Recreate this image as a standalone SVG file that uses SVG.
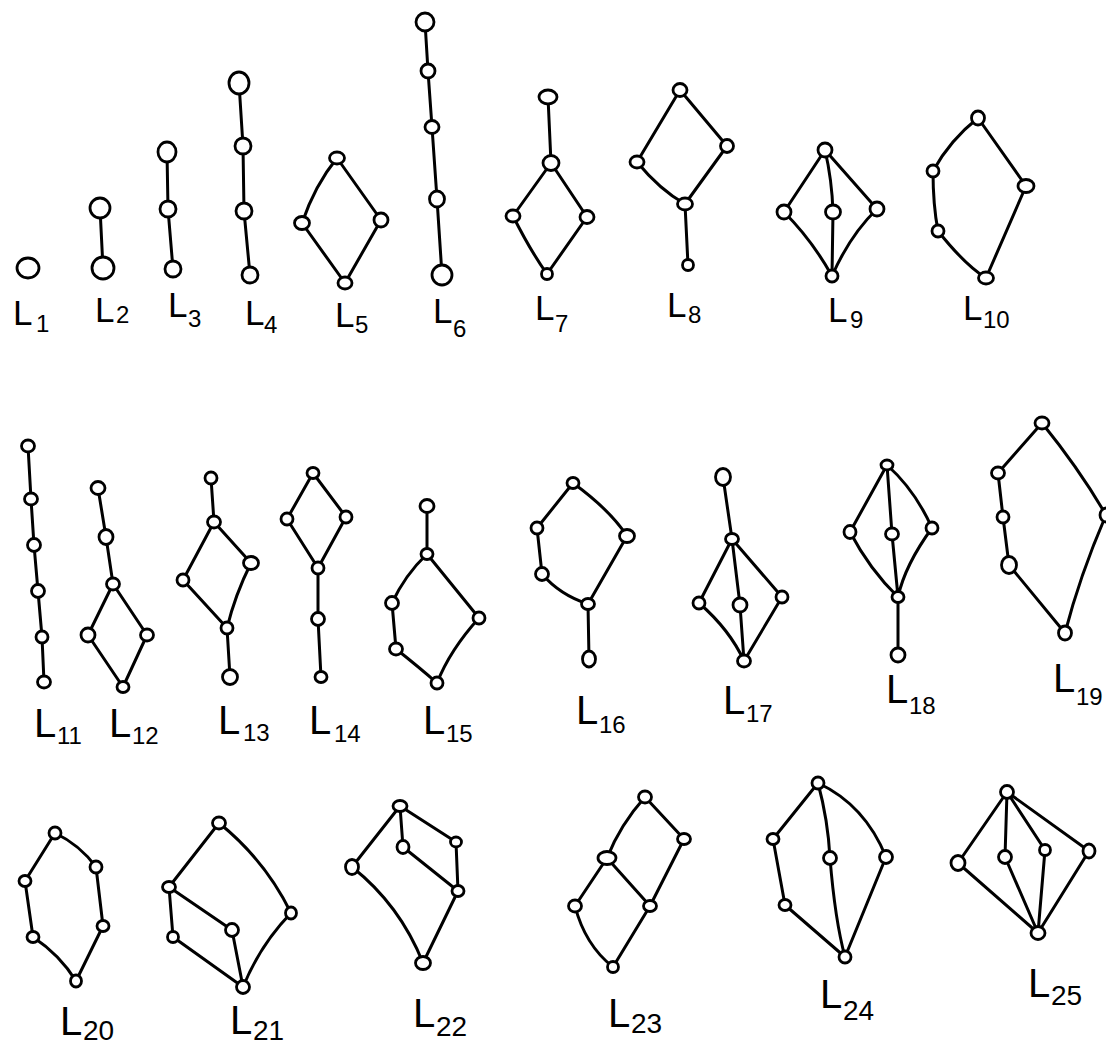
<svg xmlns="http://www.w3.org/2000/svg" width="1106" height="1048" viewBox="0 0 1106 1048">
<style>
.e{stroke:#000;stroke-width:3;fill:none;stroke-linecap:round;stroke-linejoin:round}
.n{fill:#fff;stroke:#000;stroke-width:2.8}
.t{font-family:"Liberation Sans",Arial,sans-serif;fill:#000;font-size:35px}
.t2{font-family:"Liberation Sans",Arial,sans-serif;fill:#000;font-size:40px}
.s{font-size:24px}
.s3{font-size:28px}
</style>
<rect width="1106" height="1048" fill="#fff"/>
<g id="connectors">
<path class="e" d="M100 208L103 268"/>
<path class="e" d="M167 152L168 209L173 269"/>
<path class="e" d="M239 83L243 146L244 211L250 275"/>
<path class="e" d="M337 158Q315 185 302 223M337 158L381 220M302 223L345 283M381 220L345 283"/>
<path class="e" d="M425 22L428 71L432 127L437 199L442 275"/>
<path class="e" d="M548 97L551 163M551 163L513 216M551 163L587 217M513 216Q530 250 547 274M587 217L547 274"/>
<path class="e" d="M680 90L637 162M680 90L727 146M637 162Q660 190 685 204M727 146L685 204M685 204L688 265"/>
<path class="e" d="M825 150L784 212M825 150Q832 180 833 212M825 150L877 209M784 212Q812 240 832 276M833 212L832 276M877 209Q850 235 832 276"/>
<path class="e" d="M978 118Q950 140 933 171M933 171Q933 205 938 231M938 231Q965 265 986 278M978 118L1026 186M1026 186L986 278"/>
<path class="e" d="M28 446L31 499L34 545L38 591L42 637L44 682"/>
<path class="e" d="M98 488L106 537L113 584M113 584L88 635M113 584L147 635M88 635L123 687M147 635L123 687"/>
<path class="e" d="M211 478L214 522M214 522L183 580M214 522L251 563M183 580L227 628M251 563Q235 595 227 628M227 628L230 677"/>
<path class="e" d="M313 473L287 519M313 473L346 517M287 519L318 568M346 517L318 568M318 568L318 619L321 677"/>
<path class="e" d="M427 506L427 554M427 554Q405 575 392 603M392 603L396 649M396 649Q420 668 437 683M427 554L479 618M479 618Q450 650 437 683"/>
<path class="e" d="M573 483L537 528M537 528L542 574M542 574Q560 595 588 604M573 483Q610 510 627 536M627 536L588 604M588 604L589 659"/>
<path class="e" d="M723 477L732 539M732 539L699 603M732 539L740 605M732 539L782 597M699 603Q730 630 744 661M740 605L744 661M782 597L744 661"/>
<path class="e" d="M887 465L850 532M887 465L892 534M887 465Q915 490 932 528M850 532Q870 570 898 597M892 534L898 597M932 528Q905 565 898 597M898 597L898 655"/>
<path class="e" d="M1042 423L998 473M998 473L1003 517L1009 565M1009 565L1065 633M1042 423Q1080 470 1106 515M1106 515Q1080 575 1065 633"/>
<path class="e" d="M55 833L25 881M55 833Q80 845 96 867M25 881L33 937M96 867L103 926M33 937Q60 955 76 981M103 926L76 981"/>
<path class="e" d="M219 823L169 887M219 823Q265 860 291 913M169 887L173 937M169 887L232 930M173 937L243 987M232 930L243 987M291 913Q260 945 243 987"/>
<path class="e" d="M400 806L352 867M400 806L403 847M400 806L456 842M403 847L458 891M456 842L458 891M458 891L423 963M352 867Q400 905 423 963"/>
<path class="e" d="M645 797Q620 825 607 858M645 797L684 839M607 858L575 906M607 858L650 906M684 839L650 906M575 906Q585 945 613 967M650 906L613 967"/>
<path class="e" d="M818 783L773 839M818 783Q828 820 830 858M818 783Q865 805 886 857M773 839L785 905M785 905L845 957M830 858Q835 920 845 957M886 857L845 957"/>
<path class="e" d="M1007 792L958 863M1007 792L1005 857M1007 792L1045 850M1007 792L1089 851M958 863L1038 933M1005 857L1038 933M1045 850L1038 933M1089 851L1038 933"/>
</g>
<g id="L1"><ellipse id="L1-a" class="n" cx="28" cy="268" rx="11" ry="10"/><text class="t" x="13" y="325">L<tspan class="s" x="36" y="332">1</tspan></text></g>
<g id="L2"><ellipse id="L2-a" class="n" cx="100" cy="208" rx="10" ry="10"/><ellipse id="L2-b" class="n" cx="103" cy="268" rx="11" ry="11"/><text class="t" x="95" y="322">L<tspan class="s" x="116" y="323">2</tspan></text></g>
<g id="L3"><ellipse id="L3-a" class="n" cx="167" cy="152" rx="9" ry="10"/><ellipse id="L3-b" class="n" cx="168" cy="209" rx="8" ry="8"/><ellipse id="L3-c" class="n" cx="173" cy="269" rx="8" ry="8"/><text class="t" x="168" y="317">L<tspan class="s" x="188" y="327">3</tspan></text></g>
<g id="L4"><ellipse id="L4-a" class="n" cx="239" cy="83" rx="10" ry="11"/><ellipse id="L4-b" class="n" cx="243" cy="146" rx="8" ry="8"/><ellipse id="L4-c" class="n" cx="244" cy="211" rx="8" ry="8"/><ellipse id="L4-d" class="n" cx="250" cy="275" rx="8" ry="8"/><text class="t" x="245" y="325">L<tspan class="s" x="264" y="333">4</tspan></text></g>
<g id="L5"><ellipse id="L5-a" class="n" cx="337" cy="158" rx="7.5" ry="6"/><ellipse id="L5-b" class="n" cx="302" cy="223" rx="7.5" ry="6.5"/><ellipse id="L5-c" class="n" cx="381" cy="220" rx="7" ry="7"/><ellipse id="L5-d" class="n" cx="345" cy="283" rx="7" ry="6"/><text class="t" x="335" y="327">L<tspan class="s" x="355" y="333">5</tspan></text></g>
<g id="L6"><ellipse id="L6-a" class="n" cx="425" cy="22" rx="9" ry="9"/><ellipse id="L6-b" class="n" cx="428" cy="71" rx="7" ry="7"/><ellipse id="L6-c" class="n" cx="432" cy="127" rx="7" ry="6.5"/><ellipse id="L6-d" class="n" cx="437" cy="199" rx="7.5" ry="8"/><ellipse id="L6-e" class="n" cx="442" cy="275" rx="10" ry="10"/><text class="t" x="433" y="323">L<tspan class="s" x="453" y="337">6</tspan></text></g>
<g id="L7"><ellipse id="L7-a" class="n" cx="548" cy="97" rx="9" ry="7"/><ellipse id="L7-b" class="n" cx="551" cy="163" rx="8" ry="7.5"/><ellipse id="L7-c" class="n" cx="513" cy="216" rx="7" ry="6"/><ellipse id="L7-d" class="n" cx="587" cy="217" rx="7" ry="6.5"/><ellipse id="L7-e" class="n" cx="547" cy="274" rx="5.5" ry="5.5"/><text class="t" x="535" y="320">L<tspan class="s" x="555" y="332">7</tspan></text></g>
<g id="L8"><ellipse id="L8-a" class="n" cx="680" cy="90" rx="7" ry="6.5"/><ellipse id="L8-b" class="n" cx="637" cy="162" rx="7" ry="6"/><ellipse id="L8-c" class="n" cx="727" cy="146" rx="6.5" ry="6.5"/><ellipse id="L8-d" class="n" cx="685" cy="204" rx="7.5" ry="6"/><ellipse id="L8-e" class="n" cx="688" cy="265" rx="5.5" ry="5.5"/><text class="t" x="667" y="317">L<tspan class="s" x="688" y="323">8</tspan></text></g>
<g id="L9"><ellipse id="L9-a" class="n" cx="825" cy="150" rx="7" ry="7"/><ellipse id="L9-b" class="n" cx="784" cy="212" rx="7" ry="7"/><ellipse id="L9-c" class="n" cx="833" cy="212" rx="7.5" ry="7"/><ellipse id="L9-d" class="n" cx="877" cy="209" rx="7" ry="7"/><ellipse id="L9-e" class="n" cx="832" cy="276" rx="6" ry="6"/><text class="t" x="828" y="322">L<tspan class="s" x="850" y="328">9</tspan></text></g>
<g id="L10"><ellipse id="L10-a" class="n" cx="978" cy="118" rx="6.5" ry="7"/><ellipse id="L10-b" class="n" cx="933" cy="171" rx="6" ry="6"/><ellipse id="L10-c" class="n" cx="938" cy="231" rx="6" ry="6"/><ellipse id="L10-d" class="n" cx="1026" cy="186" rx="8" ry="6.5"/><ellipse id="L10-e" class="n" cx="986" cy="278" rx="7.5" ry="6"/><text class="t" x="963" y="320">L<tspan class="s" x="983" y="328">10</tspan></text></g>
<g id="L11"><ellipse id="L11-a" class="n" cx="28" cy="446" rx="6.5" ry="6"/><ellipse id="L11-b" class="n" cx="31" cy="499" rx="6.5" ry="6"/><ellipse id="L11-c" class="n" cx="34" cy="545" rx="6.5" ry="6.5"/><ellipse id="L11-d" class="n" cx="38" cy="591" rx="6.5" ry="6.5"/><ellipse id="L11-e" class="n" cx="42" cy="637" rx="6" ry="6"/><ellipse id="L11-f" class="n" cx="44" cy="682" rx="6.5" ry="6"/><text class="t2" x="34" y="737">L<tspan class="s" x="57" y="744">11</tspan></text></g>
<g id="L12"><ellipse id="L12-a" class="n" cx="98" cy="488" rx="7" ry="6.5"/><ellipse id="L12-b" class="n" cx="106" cy="537" rx="7" ry="7.5"/><ellipse id="L12-c" class="n" cx="113" cy="584" rx="6.5" ry="6"/><ellipse id="L12-d" class="n" cx="88" cy="635" rx="7" ry="7"/><ellipse id="L12-e" class="n" cx="147" cy="635" rx="6.5" ry="6"/><ellipse id="L12-f" class="n" cx="123" cy="687" rx="6" ry="5.5"/><text class="t2" x="109" y="737">L<tspan class="s" x="132" y="744">12</tspan></text></g>
<g id="L13"><ellipse id="L13-a" class="n" cx="211" cy="478" rx="6" ry="6"/><ellipse id="L13-b" class="n" cx="214" cy="522" rx="6.5" ry="6"/><ellipse id="L13-c" class="n" cx="183" cy="580" rx="6" ry="6"/><ellipse id="L13-d" class="n" cx="251" cy="563" rx="7.5" ry="6.5"/><ellipse id="L13-e" class="n" cx="227" cy="628" rx="6" ry="6" stroke-width="4"/><ellipse id="L13-f" class="n" cx="230" cy="677" rx="7.5" ry="7.5"/><text class="t2" x="218" y="734">L<tspan class="s" x="243" y="741">13</tspan></text></g>
<g id="L14"><ellipse id="L14-a" class="n" cx="313" cy="473" rx="6" ry="5.5"/><ellipse id="L14-b" class="n" cx="287" cy="519" rx="6" ry="6"/><ellipse id="L14-c" class="n" cx="346" cy="517" rx="6" ry="6"/><ellipse id="L14-d" class="n" cx="318" cy="568" rx="6" ry="6"/><ellipse id="L14-e" class="n" cx="318" cy="619" rx="6.5" ry="6.5"/><ellipse id="L14-f" class="n" cx="321" cy="677" rx="6" ry="5.5"/><text class="t2" x="309" y="734">L<tspan class="s" x="334" y="742">14</tspan></text></g>
<g id="L15"><ellipse id="L15-a" class="n" cx="427" cy="506" rx="7" ry="6.5"/><ellipse id="L15-b" class="n" cx="427" cy="554" rx="6" ry="5.5"/><ellipse id="L15-c" class="n" cx="392" cy="603" rx="6.5" ry="6.5"/><ellipse id="L15-d" class="n" cx="396" cy="649" rx="6.5" ry="6"/><ellipse id="L15-e" class="n" cx="479" cy="618" rx="6" ry="6"/><ellipse id="L15-f" class="n" cx="437" cy="683" rx="6" ry="6"/><text class="t2" x="423" y="734">L<tspan class="s" x="446" y="742">15</tspan></text></g>
<g id="L16"><ellipse id="L16-a" class="n" cx="573" cy="483" rx="6" ry="5.5"/><ellipse id="L16-b" class="n" cx="537" cy="528" rx="6" ry="6"/><ellipse id="L16-c" class="n" cx="542" cy="574" rx="6.5" ry="6.5"/><ellipse id="L16-d" class="n" cx="627" cy="536" rx="7.5" ry="6.5"/><ellipse id="L16-e" class="n" cx="588" cy="604" rx="6.5" ry="5.5"/><ellipse id="L16-f" class="n" cx="589" cy="659" rx="6.5" ry="8"/><text class="t2" x="576" y="724">L<tspan class="s" x="599" y="733">16</tspan></text></g>
<g id="L17"><ellipse id="L17-a" class="n" cx="723" cy="477" rx="7.5" ry="8.5"/><ellipse id="L17-b" class="n" cx="732" cy="539" rx="6.5" ry="5.5"/><ellipse id="L17-c" class="n" cx="699" cy="603" rx="6" ry="6"/><ellipse id="L17-d" class="n" cx="740" cy="605" rx="7" ry="7"/><ellipse id="L17-e" class="n" cx="782" cy="597" rx="6" ry="6"/><ellipse id="L17-f" class="n" cx="744" cy="661" rx="6.5" ry="6"/><text class="t2" x="723" y="714">L<tspan class="s" x="746" y="722">17</tspan></text></g>
<g id="L18"><ellipse id="L18-a" class="n" cx="887" cy="465" rx="6" ry="5"/><ellipse id="L18-b" class="n" cx="850" cy="532" rx="6" ry="6.5"/><ellipse id="L18-c" class="n" cx="892" cy="534" rx="6.5" ry="6"/><ellipse id="L18-d" class="n" cx="932" cy="528" rx="6" ry="6"/><ellipse id="L18-e" class="n" cx="898" cy="597" rx="6" ry="5.5"/><ellipse id="L18-f" class="n" cx="898" cy="655" rx="7" ry="7"/><text class="t2" x="886" y="703">L<tspan class="s" x="909" y="714">18</tspan></text></g>
<g id="L19"><ellipse id="L19-a" class="n" cx="1042" cy="423" rx="7" ry="6"/><ellipse id="L19-b" class="n" cx="998" cy="473" rx="6.5" ry="6"/><ellipse id="L19-c" class="n" cx="1003" cy="517" rx="6" ry="6"/><ellipse id="L19-d" class="n" cx="1009" cy="565" rx="7.5" ry="8.5"/><ellipse id="L19-e" class="n" cx="1106" cy="515" rx="6" ry="7"/><ellipse id="L19-f" class="n" cx="1065" cy="633" rx="6.5" ry="7"/><text class="t2" x="1053" y="692">L<tspan class="s" x="1076" y="705">19</tspan></text></g>
<g id="L20"><ellipse id="L20-a" class="n" cx="55" cy="833" rx="6" ry="6"/><ellipse id="L20-b" class="n" cx="25" cy="881" rx="6" ry="5.5"/><ellipse id="L20-c" class="n" cx="96" cy="867" rx="6" ry="6"/><ellipse id="L20-d" class="n" cx="33" cy="937" rx="6" ry="5.5"/><ellipse id="L20-e" class="n" cx="103" cy="926" rx="6" ry="5.5"/><ellipse id="L20-f" class="n" cx="76" cy="981" rx="5.5" ry="6"/><text class="t2" x="60" y="1035">L<tspan class="s3" x="83" y="1040">20</tspan></text></g>
<g id="L21"><ellipse id="L21-a" class="n" cx="219" cy="823" rx="6.5" ry="6"/><ellipse id="L21-b" class="n" cx="169" cy="887" rx="6.5" ry="5.5"/><ellipse id="L21-c" class="n" cx="173" cy="937" rx="5.5" ry="5.5"/><ellipse id="L21-d" class="n" cx="232" cy="930" rx="6.5" ry="6.5"/><ellipse id="L21-e" class="n" cx="291" cy="913" rx="5.5" ry="6"/><ellipse id="L21-f" class="n" cx="243" cy="987" rx="6.5" ry="6.5"/><text class="t2" x="230" y="1034">L<tspan class="s3" x="253" y="1040">21</tspan></text></g>
<g id="L22"><ellipse id="L22-a" class="n" cx="400" cy="806" rx="7" ry="5.5"/><ellipse id="L22-b" class="n" cx="403" cy="847" rx="6" ry="6.5"/><ellipse id="L22-c" class="n" cx="456" cy="842" rx="5.5" ry="5"/><ellipse id="L22-d" class="n" cx="458" cy="891" rx="6" ry="5.5"/><ellipse id="L22-e" class="n" cx="423" cy="963" rx="7.5" ry="6.5"/><ellipse id="L22-f" class="n" cx="352" cy="867" rx="6.5" ry="7.5"/><text class="t2" x="413" y="1027">L<tspan class="s3" x="436" y="1036">22</tspan></text></g>
<g id="L23"><ellipse id="L23-a" class="n" cx="645" cy="797" rx="6.5" ry="6"/><ellipse id="L23-b" class="n" cx="684" cy="839" rx="6.5" ry="5.5"/><ellipse id="L23-c" class="n" cx="607" cy="858" rx="9" ry="6.5"/><ellipse id="L23-d" class="n" cx="575" cy="906" rx="6.5" ry="6" stroke-width="3.6"/><ellipse id="L23-e" class="n" cx="650" cy="906" rx="6.5" ry="5.5"/><ellipse id="L23-f" class="n" cx="613" cy="967" rx="5.5" ry="5.5"/><text class="t2" x="608" y="1027">L<tspan class="s3" x="631" y="1033">23</tspan></text></g>
<g id="L24"><ellipse id="L24-a" class="n" cx="818" cy="783" rx="6" ry="6"/><ellipse id="L24-b" class="n" cx="773" cy="839" rx="6" ry="5.5"/><ellipse id="L24-c" class="n" cx="830" cy="858" rx="6.5" ry="6.5"/><ellipse id="L24-d" class="n" cx="886" cy="857" rx="6.5" ry="6.5"/><ellipse id="L24-e" class="n" cx="785" cy="905" rx="6" ry="5.5"/><ellipse id="L24-f" class="n" cx="845" cy="957" rx="6" ry="6"/><text class="t2" x="820" y="1008">L<tspan class="s3" x="843" y="1020">24</tspan></text></g>
<g id="L25"><ellipse id="L25-a" class="n" cx="1007" cy="792" rx="6.5" ry="6.5"/><ellipse id="L25-b" class="n" cx="958" cy="863" rx="7" ry="7.5"/><ellipse id="L25-c" class="n" cx="1005" cy="857" rx="6.5" ry="6.5"/><ellipse id="L25-d" class="n" cx="1045" cy="850" rx="5.5" ry="5.5"/><ellipse id="L25-e" class="n" cx="1089" cy="851" rx="6" ry="7"/><ellipse id="L25-f" class="n" cx="1038" cy="933" rx="7" ry="6.5"/><text class="t2" x="1028" y="997">L<tspan class="s3" x="1051" y="1005">25</tspan></text></g>
</svg>
